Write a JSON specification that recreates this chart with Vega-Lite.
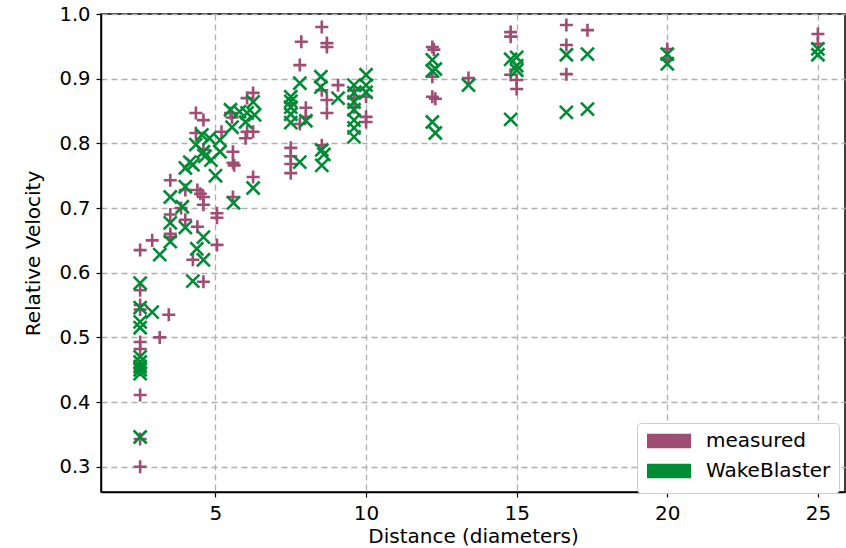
{
  "$schema": "https://vega.github.io/schema/vega-lite/v6.json",
  "width": 744,
  "height": 478,
  "autosize": {"type": "none"},
  "padding": {"left": 101, "top": 14, "right": 1, "bottom": 56},
  "background": "white",
  "config": {
    "font": "DejaVu Sans",
    "view": {"stroke": "#000", "strokeWidth": 1.5},
    "axis": {
      "domainColor": "#000", "domainWidth": 1.5,
      "tickColor": "#000", "tickSize": 5, "tickWidth": 1.2,
      "gridColor": "#b0b0b0", "gridDash": [6, 4], "gridWidth": 1.3,
      "labelFont": "DejaVu Sans", "labelFontSize": 20, "labelColor": "#000",
      "titleFont": "DejaVu Sans", "titleFontSize": 20, "titleFontWeight": "normal", "titleColor": "#000"
    }
  },
  "data": {"values": [
    {"d": 2.5, "v": 0.635, "s": "measured"},
    {"d": 2.5, "v": 0.573, "s": "measured"},
    {"d": 2.5, "v": 0.55, "s": "measured"},
    {"d": 2.5, "v": 0.543, "s": "measured"},
    {"d": 2.5, "v": 0.493, "s": "measured"},
    {"d": 2.5, "v": 0.482, "s": "measured"},
    {"d": 2.5, "v": 0.45, "s": "measured"},
    {"d": 2.5, "v": 0.411, "s": "measured"},
    {"d": 2.5, "v": 0.343, "s": "measured"},
    {"d": 2.5, "v": 0.3, "s": "measured"},
    {"d": 2.9, "v": 0.65, "s": "measured"},
    {"d": 3.15, "v": 0.5, "s": "measured"},
    {"d": 3.45, "v": 0.535, "s": "measured"},
    {"d": 3.5, "v": 0.743, "s": "measured"},
    {"d": 3.5, "v": 0.69, "s": "measured"},
    {"d": 3.5, "v": 0.66, "s": "measured"},
    {"d": 3.5, "v": 0.655, "s": "measured"},
    {"d": 3.86, "v": 0.7, "s": "measured"},
    {"d": 4.0, "v": 0.728, "s": "measured"},
    {"d": 4.0, "v": 0.682, "s": "measured"},
    {"d": 4.35, "v": 0.847, "s": "measured"},
    {"d": 4.35, "v": 0.816, "s": "measured"},
    {"d": 4.4, "v": 0.728, "s": "measured"},
    {"d": 4.4, "v": 0.671, "s": "measured"},
    {"d": 4.5, "v": 0.722, "s": "measured"},
    {"d": 4.6, "v": 0.836, "s": "measured"},
    {"d": 4.6, "v": 0.79, "s": "measured"},
    {"d": 4.6, "v": 0.717, "s": "measured"},
    {"d": 4.6, "v": 0.705, "s": "measured"},
    {"d": 4.25, "v": 0.62, "s": "measured"},
    {"d": 4.6, "v": 0.586, "s": "measured"},
    {"d": 5.05, "v": 0.692, "s": "measured"},
    {"d": 5.05, "v": 0.685, "s": "measured"},
    {"d": 5.05, "v": 0.643, "s": "measured"},
    {"d": 5.2, "v": 0.818, "s": "measured"},
    {"d": 5.5, "v": 0.847, "s": "measured"},
    {"d": 5.55, "v": 0.84, "s": "measured"},
    {"d": 5.58, "v": 0.787, "s": "measured"},
    {"d": 5.58, "v": 0.77, "s": "measured"},
    {"d": 5.62, "v": 0.766, "s": "measured"},
    {"d": 5.58, "v": 0.717, "s": "measured"},
    {"d": 6.05, "v": 0.87, "s": "measured"},
    {"d": 6.25, "v": 0.878, "s": "measured"},
    {"d": 6.05, "v": 0.818, "s": "measured"},
    {"d": 6.25, "v": 0.818, "s": "measured"},
    {"d": 6.0, "v": 0.808, "s": "measured"},
    {"d": 6.25, "v": 0.748, "s": "measured"},
    {"d": 7.5, "v": 0.862, "s": "measured"},
    {"d": 7.5, "v": 0.793, "s": "measured"},
    {"d": 7.5, "v": 0.78, "s": "measured"},
    {"d": 7.5, "v": 0.768, "s": "measured"},
    {"d": 7.5, "v": 0.754, "s": "measured"},
    {"d": 7.85, "v": 0.957, "s": "measured"},
    {"d": 7.8, "v": 0.921, "s": "measured"},
    {"d": 7.8, "v": 0.83, "s": "measured"},
    {"d": 8.0, "v": 0.855, "s": "measured"},
    {"d": 8.0, "v": 0.841, "s": "measured"},
    {"d": 8.53, "v": 0.98, "s": "measured"},
    {"d": 8.53, "v": 0.882, "s": "measured"},
    {"d": 8.53, "v": 0.797, "s": "measured"},
    {"d": 8.7, "v": 0.955, "s": "measured"},
    {"d": 8.7, "v": 0.949, "s": "measured"},
    {"d": 8.7, "v": 0.867, "s": "measured"},
    {"d": 8.7, "v": 0.847, "s": "measured"},
    {"d": 9.07, "v": 0.89, "s": "measured"},
    {"d": 9.6, "v": 0.882, "s": "measured"},
    {"d": 9.6, "v": 0.87, "s": "measured"},
    {"d": 9.6, "v": 0.856, "s": "measured"},
    {"d": 10.0, "v": 0.872, "s": "measured"},
    {"d": 10.0, "v": 0.841, "s": "measured"},
    {"d": 10.0, "v": 0.833, "s": "measured"},
    {"d": 12.2, "v": 0.949, "s": "measured"},
    {"d": 12.25, "v": 0.945, "s": "measured"},
    {"d": 12.2, "v": 0.903, "s": "measured"},
    {"d": 12.2, "v": 0.872, "s": "measured"},
    {"d": 12.3, "v": 0.869, "s": "measured"},
    {"d": 13.4, "v": 0.901, "s": "measured"},
    {"d": 14.8, "v": 0.972, "s": "measured"},
    {"d": 14.8, "v": 0.965, "s": "measured"},
    {"d": 14.8, "v": 0.906, "s": "measured"},
    {"d": 15.0, "v": 0.898, "s": "measured"},
    {"d": 15.0, "v": 0.884, "s": "measured"},
    {"d": 16.65, "v": 0.983, "s": "measured"},
    {"d": 16.65, "v": 0.952, "s": "measured"},
    {"d": 16.65, "v": 0.907, "s": "measured"},
    {"d": 17.35, "v": 0.975, "s": "measured"},
    {"d": 20.0, "v": 0.946, "s": "measured"},
    {"d": 20.0, "v": 0.93, "s": "measured"},
    {"d": 25.0, "v": 0.969, "s": "measured"},
    {"d": 25.0, "v": 0.954, "s": "measured"},
    {"d": 2.5, "v": 0.584, "s": "WakeBlaster"},
    {"d": 2.5, "v": 0.546, "s": "WakeBlaster"},
    {"d": 2.5, "v": 0.524, "s": "WakeBlaster"},
    {"d": 2.5, "v": 0.515, "s": "WakeBlaster"},
    {"d": 2.5, "v": 0.47, "s": "WakeBlaster"},
    {"d": 2.5, "v": 0.462, "s": "WakeBlaster"},
    {"d": 2.5, "v": 0.455, "s": "WakeBlaster"},
    {"d": 2.5, "v": 0.45, "s": "WakeBlaster"},
    {"d": 2.5, "v": 0.444, "s": "WakeBlaster"},
    {"d": 2.5, "v": 0.346, "s": "WakeBlaster"},
    {"d": 2.9, "v": 0.539, "s": "WakeBlaster"},
    {"d": 3.15, "v": 0.628, "s": "WakeBlaster"},
    {"d": 3.5, "v": 0.717, "s": "WakeBlaster"},
    {"d": 3.5, "v": 0.677, "s": "WakeBlaster"},
    {"d": 3.5, "v": 0.648, "s": "WakeBlaster"},
    {"d": 3.9, "v": 0.702, "s": "WakeBlaster"},
    {"d": 4.0, "v": 0.762, "s": "WakeBlaster"},
    {"d": 4.0, "v": 0.733, "s": "WakeBlaster"},
    {"d": 4.0, "v": 0.67, "s": "WakeBlaster"},
    {"d": 4.15, "v": 0.771, "s": "WakeBlaster"},
    {"d": 4.25, "v": 0.767, "s": "WakeBlaster"},
    {"d": 4.25, "v": 0.587, "s": "WakeBlaster"},
    {"d": 4.35, "v": 0.798, "s": "WakeBlaster"},
    {"d": 4.38, "v": 0.637, "s": "WakeBlaster"},
    {"d": 4.55, "v": 0.813, "s": "WakeBlaster"},
    {"d": 4.6, "v": 0.787, "s": "WakeBlaster"},
    {"d": 4.65, "v": 0.78, "s": "WakeBlaster"},
    {"d": 4.6, "v": 0.655, "s": "WakeBlaster"},
    {"d": 4.6, "v": 0.62, "s": "WakeBlaster"},
    {"d": 4.8, "v": 0.808, "s": "WakeBlaster"},
    {"d": 4.85, "v": 0.774, "s": "WakeBlaster"},
    {"d": 5.0, "v": 0.75, "s": "WakeBlaster"},
    {"d": 5.15, "v": 0.805, "s": "WakeBlaster"},
    {"d": 5.15, "v": 0.787, "s": "WakeBlaster"},
    {"d": 5.5, "v": 0.852, "s": "WakeBlaster"},
    {"d": 5.55, "v": 0.825, "s": "WakeBlaster"},
    {"d": 5.6, "v": 0.708, "s": "WakeBlaster"},
    {"d": 5.8, "v": 0.849, "s": "WakeBlaster"},
    {"d": 6.0, "v": 0.833, "s": "WakeBlaster"},
    {"d": 6.05, "v": 0.847, "s": "WakeBlaster"},
    {"d": 6.25, "v": 0.864, "s": "WakeBlaster"},
    {"d": 6.3, "v": 0.844, "s": "WakeBlaster"},
    {"d": 6.25, "v": 0.731, "s": "WakeBlaster"},
    {"d": 7.5, "v": 0.872, "s": "WakeBlaster"},
    {"d": 7.5, "v": 0.865, "s": "WakeBlaster"},
    {"d": 7.5, "v": 0.856, "s": "WakeBlaster"},
    {"d": 7.5, "v": 0.845, "s": "WakeBlaster"},
    {"d": 7.5, "v": 0.832, "s": "WakeBlaster"},
    {"d": 7.8, "v": 0.893, "s": "WakeBlaster"},
    {"d": 7.8, "v": 0.771, "s": "WakeBlaster"},
    {"d": 8.0, "v": 0.835, "s": "WakeBlaster"},
    {"d": 8.5, "v": 0.903, "s": "WakeBlaster"},
    {"d": 8.5, "v": 0.887, "s": "WakeBlaster"},
    {"d": 8.53, "v": 0.79, "s": "WakeBlaster"},
    {"d": 8.6, "v": 0.783, "s": "WakeBlaster"},
    {"d": 8.53, "v": 0.766, "s": "WakeBlaster"},
    {"d": 9.07, "v": 0.87, "s": "WakeBlaster"},
    {"d": 9.6, "v": 0.89, "s": "WakeBlaster"},
    {"d": 9.6, "v": 0.878, "s": "WakeBlaster"},
    {"d": 9.6, "v": 0.864, "s": "WakeBlaster"},
    {"d": 9.6, "v": 0.852, "s": "WakeBlaster"},
    {"d": 9.6, "v": 0.836, "s": "WakeBlaster"},
    {"d": 9.6, "v": 0.824, "s": "WakeBlaster"},
    {"d": 9.6, "v": 0.81, "s": "WakeBlaster"},
    {"d": 10.0, "v": 0.906, "s": "WakeBlaster"},
    {"d": 10.0, "v": 0.89, "s": "WakeBlaster"},
    {"d": 10.0, "v": 0.879, "s": "WakeBlaster"},
    {"d": 12.2, "v": 0.929, "s": "WakeBlaster"},
    {"d": 12.3, "v": 0.915, "s": "WakeBlaster"},
    {"d": 12.2, "v": 0.912, "s": "WakeBlaster"},
    {"d": 12.2, "v": 0.833, "s": "WakeBlaster"},
    {"d": 12.3, "v": 0.816, "s": "WakeBlaster"},
    {"d": 13.4, "v": 0.89, "s": "WakeBlaster"},
    {"d": 14.8, "v": 0.93, "s": "WakeBlaster"},
    {"d": 14.8, "v": 0.837, "s": "WakeBlaster"},
    {"d": 15.0, "v": 0.933, "s": "WakeBlaster"},
    {"d": 15.0, "v": 0.92, "s": "WakeBlaster"},
    {"d": 15.0, "v": 0.913, "s": "WakeBlaster"},
    {"d": 16.65, "v": 0.937, "s": "WakeBlaster"},
    {"d": 16.65, "v": 0.848, "s": "WakeBlaster"},
    {"d": 17.35, "v": 0.938, "s": "WakeBlaster"},
    {"d": 17.35, "v": 0.853, "s": "WakeBlaster"},
    {"d": 20.0, "v": 0.938, "s": "WakeBlaster"},
    {"d": 20.0, "v": 0.923, "s": "WakeBlaster"},
    {"d": 25.0, "v": 0.946, "s": "WakeBlaster"},
    {"d": 25.0, "v": 0.937, "s": "WakeBlaster"}
  ]},
  "encoding": {
    "x": {"field": "d", "type": "quantitative", "title": "Distance (diameters)",
      "scale": {"domain": [1.2, 25.9], "nice": false, "zero": false},
      "axis": {"values": [5, 10, 15, 20, 25], "titlePadding": 3, "labelPadding": 6}},
    "y": {"field": "v", "type": "quantitative", "title": "Relative Velocity",
      "scale": {"domain": [0.261, 1.0], "nice": false, "zero": false},
      "axis": {"values": [0.3, 0.4, 0.5, 0.6, 0.7, 0.8, 0.9, 1.0], "format": ".1f", "titlePadding": 15, "labelPadding": 6, "labelFontSize": 19.5}}
  },
  "layer": [
    {
      "transform": [{"filter": "datum.s === 'measured'"}],
      "mark": {"type": "point", "filled": false, "strokeWidth": 2.6, "size": 170, "opacity": 1, "shape": "M-1,0H1M0,-1V1"},
      "encoding": {
        "color": {"field": "s", "type": "nominal",
          "scale": {"domain": ["measured", "WakeBlaster"], "range": ["#a04d74", "#008c35"]},
          "legend": {"title": null, "orient": "none", "legendX": 536, "legendY": 409,
            "symbolType": "M-2.75,-0.66H2.75M-2.75,-0.22H2.75M-2.75,0.22H2.75M-2.75,0.66H2.75",
            "symbolSize": 256, "symbolStrokeWidth": 4, "symbolOpacity": 1,
            "symbolOffset": 14, "labelOffset": 27,
            "labelFontSize": 20, "labelFont": "DejaVu Sans", "labelColor": "#000",
            "rowPadding": 2, "padding": 8, "fillColor": "white", "strokeColor": "#cccccc", "cornerRadius": 4}}
      }
    },
    {
      "transform": [{"filter": "datum.s === 'WakeBlaster'"}],
      "mark": {"type": "point", "filled": false, "strokeWidth": 2.6, "size": 170, "opacity": 1, "shape": "M-1,-1L1,1M-1,1L1,-1"},
      "encoding": {
        "color": {"field": "s", "type": "nominal",
          "scale": {"domain": ["measured", "WakeBlaster"], "range": ["#a04d74", "#008c35"]}}
      }
    }
  ]
}
